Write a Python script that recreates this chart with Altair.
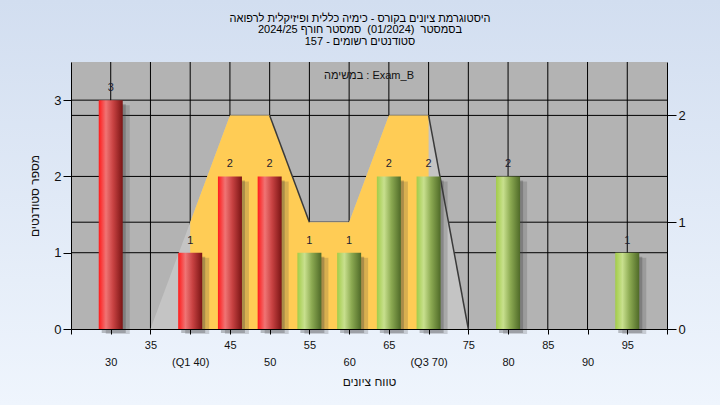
import altair as alt
import pandas as pd

# Grade bins (bin centre) and number of students in each bin
grades = [30, 40, 45, 50, 55, 60, 65, 70, 80, 95]
counts = [3, 1, 2, 2, 1, 1, 2, 2, 2, 1]
pass_grade = 55

# Frequency polygon, read against the right-hand axis
poly_grades = [35, 40, 45, 50, 55, 60, 65, 70, 75]
poly_counts = [0, 1, 2, 2, 1, 1, 2, 2, 0]
q1, q3 = 40, 70

# Axis ticks
x_ticks = [25, 30, 35, 40, 45, 50, 55, 60, 65, 70, 75, 80, 85, 90, 95, 100]
x_grid = [30, 35, 40, 45, 50, 55, 60, 65, 70, 75, 80, 85, 90, 95]
left_ticks = [0, 1, 2, 3]
right_ticks = [0, 1, 2]
left_domain = [0, 3.5]
right_domain = [0, 2.5]
x_domain = [25, 100]

title_lines = [
    "היסטוגרמת ציונים בקורס - כימיה כללית ופיזיקלית לרפואה",
    "בסמסטר\u00a0 (01/2024)\u00a0 סמסטר חורף 2024/25",
    "סטודנטים רשומים - 157",
]
subtitle = "במשימה : Exam_B"
x_title = "טווח ציונים"
y_title = "מספר סטודנטים"

FONT = "Liberation Sans"
W, H = 596, 267
PAD = {"left": 71, "top": 62, "right": 53, "bottom": 76}

# ---- scales and axes -------------------------------------------------------
x_scale = alt.Scale(domain=x_domain, nice=False, zero=False, padding=0)
left_scale = alt.Scale(domain=left_domain, nice=False)
right_scale = alt.Scale(domain=right_domain, nice=False)

label_expr = "datum.label"
for val, txt in {q1: f"(Q1 {q1})", q3: f"(Q3 {q3})", x_domain[0]: "", x_domain[1]: ""}.items():
    label_expr = f"datum.value == {val} ? '{txt}' : " + label_expr

x_axis = alt.Axis(
    values=x_ticks, labelExpr=label_expr, grid=False, zindex=1,
    domainColor="black", tickColor="black", tickSize=5,
    labelFont=FONT, labelFontSize=11, labelColor="#111111",
    labelPadding={"condition": {"test": "datum.value % 10 == 0", "value": 22}, "value": 5},
    labelFlush=False, labelOverlap=False, labelBaseline="top",
    title=x_title, titleFont=FONT, titleFontSize=12, titleFontWeight="normal",
    titleColor="#111111", titleY=56, titleBaseline="alphabetic",
)
left_axis = alt.Axis(
    orient="left", values=left_ticks, grid=False, zindex=1,
    domainColor="black", tickColor="black", tickSize=8,
    labelFont=FONT, labelFontSize=13, labelColor="#111111", labelPadding=2,
    title=y_title, titleFont=FONT, titleFontSize=12, titleFontWeight="normal",
    titleColor="#111111", titleAngle=270, titleX=-33, titleY=H / 2,
    titleBaseline="alphabetic", titleAlign="center",
)
right_axis = alt.Axis(
    orient="right", values=right_ticks, grid=False, zindex=1,
    domainColor="black", tickColor="black", tickSize=9,
    labelFont=FONT, labelFontSize=13, labelColor="#111111", labelPadding=2,
    title=None,
)

X = alt.X("grade:Q", scale=x_scale, axis=x_axis)
Y_LEFT = alt.Y("count:Q", scale=left_scale, axis=left_axis)
Y_RIGHT = alt.Y("count:Q", scale=right_scale, axis=right_axis)

one_row = alt.Data(values=[{}])

# ---- background ------------------------------------------------------------
bg_gradient = alt.LinearGradient(
    gradient="linear", x1=0, x2=0, y1=0, y2=1,
    stops=[alt.GradientStop(color="#D2DEF0", offset=0),
           alt.GradientStop(color="#EFF5FD", offset=1)],
)
background = alt.Chart(one_row).mark_rect(color=bg_gradient).encode(
    x=alt.value(-PAD["left"]), x2=alt.value(W + PAD["right"]),
    y=alt.value(-PAD["top"]), y2=alt.value(H + PAD["bottom"]),
)
plot_bg = alt.Chart(one_row).mark_rect(color="#B3B3B3").encode(
    x=alt.value(0), x2=alt.value(W), y=alt.value(0), y2=alt.value(H)
)

# Hebrew title, laid out right to left
title = alt.Chart(one_row).mark_text(
    text=title_lines, font=FONT, fontSize=11, lineHeight=11.5, dir="rtl",
    align="center", baseline="top", color="#000000",
).encode(x=alt.value(360 - PAD["left"]), y=alt.value(-49.5))

inner_label = alt.Chart(one_row).mark_text(
    text=subtitle, font=FONT, fontSize=11, align="center", baseline="middle",
    color="#111111",
).encode(x=alt.value(W / 2), y=alt.value(14))

# ---- grid ------------------------------------------------------------------
vgrid = alt.Chart(pd.DataFrame({"grade": x_grid})).mark_rule(
    color="black", strokeWidth=1
).encode(x=X)
hgrid_left = alt.Chart(pd.DataFrame({"count": left_ticks[1:]})).mark_rule(
    color="black", strokeWidth=1
).encode(y=alt.Y("count:Q", scale=left_scale, axis=None))
hgrid_right = alt.Chart(pd.DataFrame({"count": right_ticks[1:]})).mark_rule(
    color="black", strokeWidth=1
).encode(y=alt.Y("count:Q", scale=right_scale, axis=None))

# ---- frequency polygon (right axis) ---------------------------------------
poly = pd.DataFrame({"grade": poly_grades, "count": poly_counts})
grey_area = alt.Chart(poly).mark_area(color="#C4C4C4", opacity=1).encode(x=X, y=Y_RIGHT)
iqr_area = alt.Chart(poly).mark_area(color="#FFCC55", opacity=1).encode(
    x=X, y=Y_RIGHT
).transform_filter(f"datum.grade >= {q1} && datum.grade <= {q3}")

falls = [
    {"grade": poly_grades[i], "count": poly_counts[i],
     "grade2": poly_grades[i + 1], "count2": poly_counts[i + 1]}
    for i in range(len(poly_grades) - 1)
    if poly_counts[i + 1] < poly_counts[i]
]
edges = alt.Chart(pd.DataFrame(falls)).mark_rule(
    color="#3A3A3A", strokeWidth=1.5
).encode(x=X, y=Y_RIGHT, x2="grade2:Q", y2="count2:Q")

right_layer = alt.layer(grey_area, iqr_area, edges)

# ---- histogram bars (left axis) --------------------------------------------
bars_df = pd.DataFrame({"grade": grades, "count": counts})


def cylinder(c_left, c_light, c_mid, c_dark):
    return alt.LinearGradient(
        gradient="linear", x1=0, x2=1, y1=0, y2=0,
        stops=[alt.GradientStop(color=c_left, offset=0),
               alt.GradientStop(color=c_light, offset=0.3),
               alt.GradientStop(color=c_mid, offset=0.6),
               alt.GradientStop(color=c_dark, offset=1)],
    )


red = cylinder("#FF1A1A", "#F07474", "#C84242", "#7A1414")
green = cylinder("#A2CC48", "#C8E08E", "#8CAA52", "#4F6A28")

shadow_wide = alt.Chart(bars_df).mark_bar(
    size=24, color="#3C3C3C", opacity=0.2, xOffset=7, yOffset=5
).encode(x=X, y=Y_LEFT)
shadow_near = alt.Chart(bars_df).mark_bar(
    size=24, color="#3C3C3C", opacity=0.3, xOffset=3, yOffset=4
).encode(x=X, y=Y_LEFT)
bars_fail = alt.Chart(bars_df).mark_bar(size=24, color=red).encode(
    x=X, y=Y_LEFT
).transform_filter(f"datum.grade < {pass_grade}")
bars_pass = alt.Chart(bars_df).mark_bar(size=24, color=green).encode(
    x=X, y=Y_LEFT
).transform_filter(f"datum.grade >= {pass_grade}")
bar_labels = alt.Chart(bars_df).mark_text(
    font=FONT, fontSize=11, dy=-9, baseline="alphabetic", align="center",
    color="#1C1C30",
).encode(x=X, y=Y_LEFT, text="count:Q")

left_layer = alt.layer(shadow_wide, shadow_near, bars_fail, bars_pass, bar_labels)

chart = alt.layer(
    background, plot_bg, title, vgrid, hgrid_left, hgrid_right,
    right_layer, left_layer, inner_label,
).resolve_scale(y="independent").properties(
    width=W, height=H, padding=PAD, autosize=alt.AutoSizeParams(type="none"),
).configure(font=FONT).configure_view(stroke="transparent")

chart.save("out.html", embed_options={"renderer": "svg", "actions": False})
